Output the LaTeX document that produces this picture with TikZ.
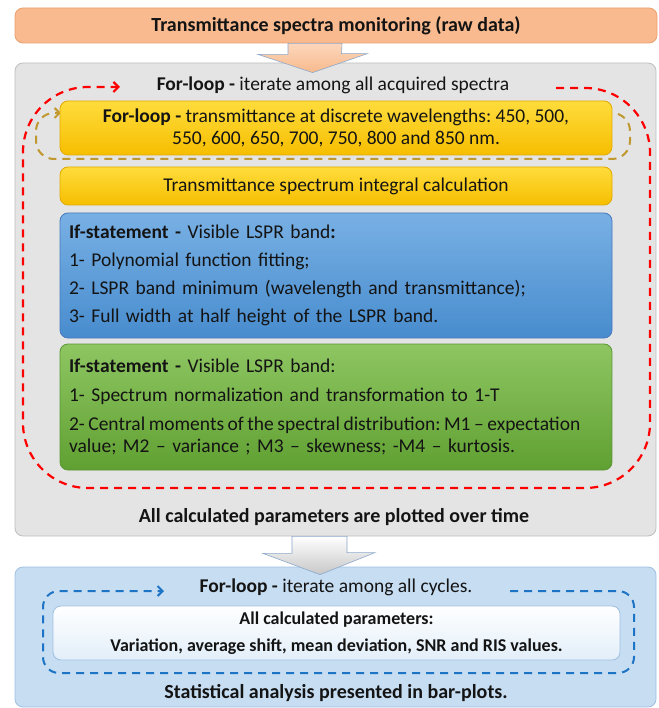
\documentclass[tikz,border=0pt]{standalone}
\usepackage{fontspec}
\setmainfont{Carlito}
\usepackage{tikz}
\usetikzlibrary{arrows.meta,calc}
\frenchspacing

\definecolor{peach}{RGB}{248,186,142}
\definecolor{peachlight}{RGB}{252,214,186}
\definecolor{peachline}{RGB}{236,160,110}
\definecolor{grayfill}{RGB}{228,228,228}
\definecolor{grayline}{RGB}{190,190,190}
\definecolor{goldtop}{RGB}{255,220,60}
\definecolor{goldbot}{RGB}{246,190,0}
\definecolor{goldline}{RGB}{226,170,0}
\definecolor{bluetop}{RGB}{120,176,228}
\definecolor{bluebot}{RGB}{72,140,206}
\definecolor{blueline}{RGB}{70,120,190}
\definecolor{greentop}{RGB}{142,198,98}
\definecolor{greenbot}{RGB}{96,160,50}
\definecolor{greenline}{RGB}{90,150,50}
\definecolor{paleblue}{RGB}{198,221,242}
\definecolor{palebline}{RGB}{160,192,226}
\definecolor{whitebot}{RGB}{226,238,249}
\definecolor{arrowline}{RGB}{140,168,204}
\definecolor{loopred}{RGB}{255,0,0}
\definecolor{loopgold}{RGB}{192,152,48}
\definecolor{loopblue}{RGB}{30,116,196}

\begin{document}
\begin{tikzpicture}[
  x=1pt, y=-1pt,
  >={Straight Barb[length=5pt,width=10pt]},
  every node/.style={font=\fontsize{19.5}{22}\selectfont, text=black!92},
  headline/.style={font=\fontsize{20}{22}\selectfont\bfseries},
  outerbox/.style={draw, rounded corners=8pt, line width=0.8pt,
    minimum width=641pt, inner sep=0pt},
  innerbox/.style={draw, rounded corners=8pt, line width=0.8pt,
    minimum width=552pt, inner sep=0pt},
  goldbox/.style={innerbox, top color=goldtop, bottom color=goldbot, draw=goldline},
  listbox/.style={innerbox, align=left, text width=534pt, inner xsep=9pt},
  blockarrow/.style={draw=arrowline, line width=0.6pt},
  loop/.style={->, dashed, dash pattern=on 8pt off 6pt, line width=2.2pt}
]
\useasboundingbox (0,0) rectangle (658,708);

% input
\node[outerbox, headline, fill=peach, draw=peachline, minimum width=642pt, minimum height=35pt]
  (raw) at (336,25.5) {Transmittance spectra monitoring (raw data)};

% main loop over spectra
\node[outerbox, fill=grayfill, draw=grayline, minimum height=473pt]
  (spectra) at (335.5,299.5) {};
\draw[blockarrow, top color=peachlight, bottom color=peach]
  ([xshift=-48pt]raw.south) -- ++(0,11) -- ++(-30,0)
  -- ([xshift=-23pt,yshift=-10pt]spectra.north) -- ++(55,-19) -- ++(-26,0)
  -- ([xshift=6pt]raw.south) -- cycle;
\node (loopspec) at (333,85) {\textbf{For-loop -} iterate among all acquired spectra};
\draw[loop, loopred, rounded corners=65pt]
  (556,88) -- (650,88) -- (650,488) -- (23,488) -- (23,87) -- (120,87);

\draw[loop, loopgold, line width=2pt, rounded corners=18pt]
  (590,113) -- (630,113) -- (630,159) -- (36,159) -- (36,113) -- (61,113);
\node[goldbox, minimum height=54pt, align=center] (wavel) at (336,128)
  {\textbf{For-loop -} transmittance at discrete wavelengths: 450, 500,\\
   550, 600, 650, 700, 750, 800 and 850 nm.};
\node[goldbox, minimum height=38pt] (integral) at (336,186)
  {Transmittance spectrum integral calculation};

\node[listbox, top color=bluetop, bottom color=bluebot, draw=blueline,
  minimum height=125pt] (lspr) at (336,275.5)
  {\textbf{If-statement -} Visible LSPR band\textbf{:}\\[6pt]
   1- Polynomial function fitting;\\[6pt]
   2- LSPR band minimum (wavelength and transmittance);\\[6pt]
   3- Full width at half height of the LSPR band.};
\node[listbox, top color=greentop, bottom color=greenbot, draw=greenline,
  minimum height=126pt] (moments) at (336,407)
  {\textbf{If-statement -} Visible LSPR band:\\[7pt]
   1- Spectrum normalization and transformation to 1-T\\[7pt]
   \mbox{\spaceskip=0.8\fontdimen2\font
     2- Central moments of the spectral distribution: M1 – expectation}\\
   value; M2 – variance ; M3 – skewness; -M4 – kurtosis.};

\node[headline] (plotted) at (334,517) {All calculated parameters are plotted over time};

% statistics over cycles
\node[outerbox, fill=paleblue, draw=palebline, minimum height=140pt]
  (cycles) at (335.5,637) {};
\draw[blockarrow, top color=white, bottom color=black!22]
  ([xshift=-43.5pt]spectra.south) -- ++(0,17) -- ++(-29,0)
  -- ([xshift=-15.5pt,yshift=-8pt]cycles.north) -- ++(55,-22) -- ++(-28,0)
  -- ([xshift=11.5pt]spectra.south) -- cycle;
\node (loopcyc) at (336,587) {\textbf{For-loop -} iterate among all cycles.};
\draw[loop, loopblue, line width=2pt, rounded corners=16pt]
  (510,591) -- (634,591) -- (634,673) -- (43,673) -- (43,591) -- (164,591);
\node[draw=palebline, rounded corners=8pt, line width=0.8pt, top color=white,
  bottom color=whitebot, minimum width=567pt, minimum height=54pt, align=center,
  font=\fontsize{18}{27}\selectfont\bfseries] (params) at (336.5,633)
  {All calculated parameters:\\ Variation, average shift, mean deviation, SNR and RIS values.};
\node[headline] (barplots) at (336,693) {Statistical analysis presented in bar-plots.};
\end{tikzpicture}
\end{document}
